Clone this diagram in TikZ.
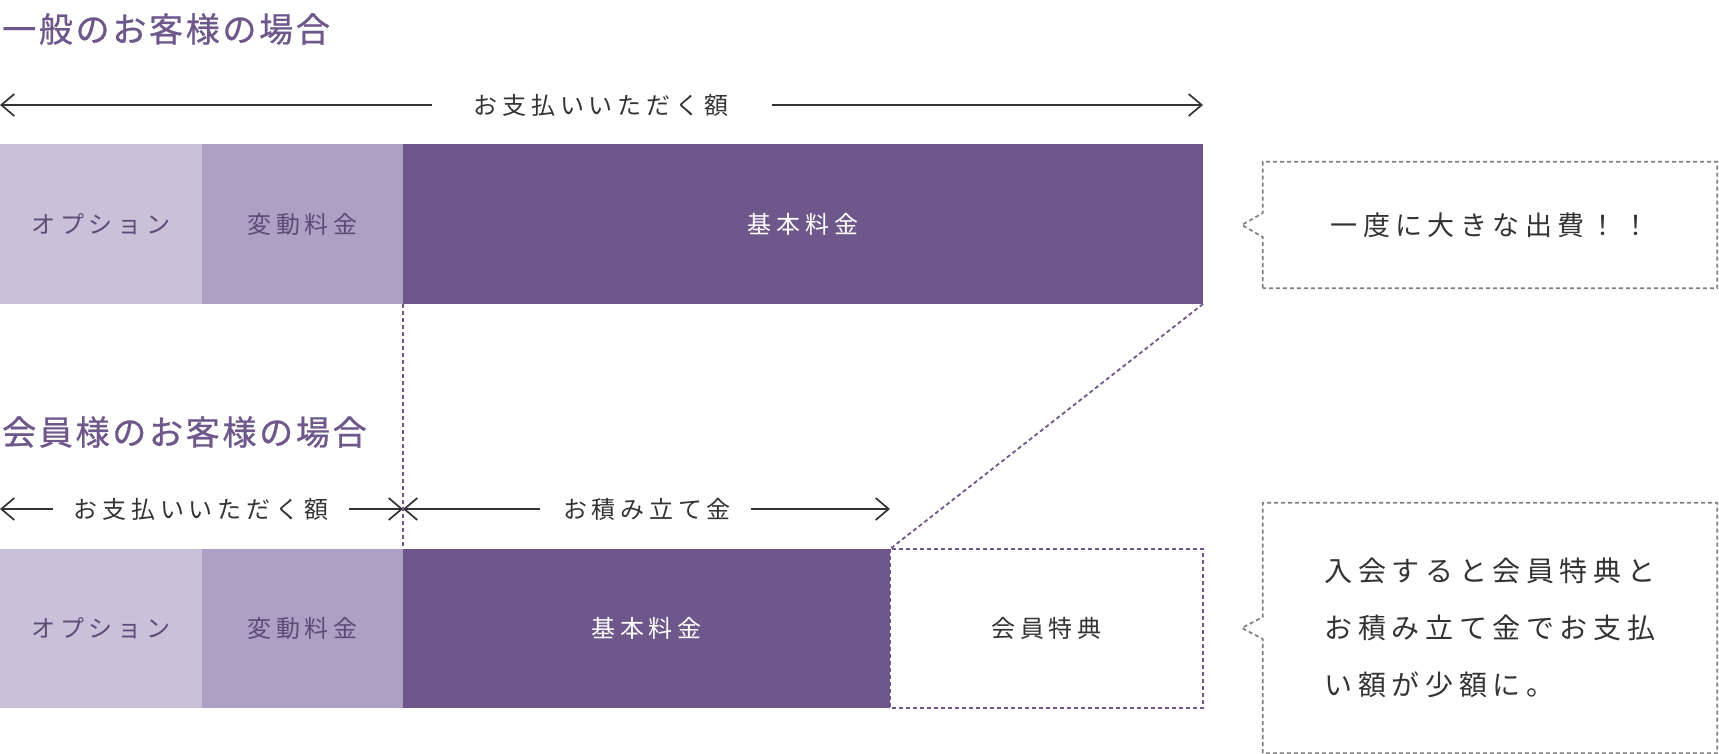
\documentclass[tikz,border=0pt]{standalone}
\usepackage{fontspec}
\setmainfont{Noto Sans CJK JP}
\newfontfamily\jpb[LetterSpace=20]{Noto Sans CJK JP}
\newfontfamily\jpt[LetterSpace=8,FakeBold=0.8]{Noto Sans CJK JP}
\usetikzlibrary{arrows.meta}
\definecolor{cLight}{HTML}{C9C0DA}
\definecolor{cMid}{HTML}{AE9FC4}
\definecolor{cDark}{HTML}{6E588B}
\definecolor{cTxtP}{HTML}{5B4B75}
\definecolor{cTxt}{HTML}{333333}
\definecolor{cGray}{HTML}{808080}
\begin{document}
\begin{tikzpicture}[x=1pt,y=-1pt,
  title/.style={anchor=west, inner sep=0pt, text=cDark, font=\jpt\fontsize{34pt}{40pt}\selectfont},
  lbl/.style={inner sep=0pt, text=cTxt, font=\jpb\fontsize{24pt}{28pt}\selectfont},
  seg/.style={draw=none, inner sep=0pt, outer sep=0pt, anchor=north west, minimum height=160pt, font=\jpb\fontsize{24pt}{28pt}\selectfont},
  arr/.style={draw=cTxt, line width=1.7pt, -{Straight Barb[length=13pt,width=22pt]}},
  pdash/.style={draw=cDark, line width=1.8pt, dash pattern=on 4pt off 3pt},
  callout/.style={draw=none, inner sep=0pt, minimum width=454pt, text=cTxt},
  gdash/.style={draw=cGray, line width=1.7pt, dash pattern=on 4pt off 3pt}
]
\useasboundingbox (0,0) rectangle (1719,754);

% ---------- row 1 ----------
\node[title] (t1) at (2,29) {一般のお客様の場合};

\coordinate (a1L) at (0,105);
\coordinate (a1s) at (432,105);
\coordinate (a1e) at (772,105);
\coordinate (a1R) at (1203,105);
\node[lbl] (a1t) at (601,105) {お支払いいただく額};
\draw[arr] (a1s) -- (a1L);
\draw[arr] (a1e) -- (a1R);

\node[seg, fill=cLight, minimum width=202pt, text=cTxtP] (o1) at (0,144) {オプション};
\node[seg, fill=cMid, minimum width=201pt, text=cTxtP] (h1) at (202,144) {変動料金};
\node[seg, fill=cDark, minimum width=800pt, text=white] (k1) at (403,144) {基本料金};

\node[callout, minimum height=126pt, font=\jpb\fontsize{27pt}{32pt}\selectfont] (c1) at (1490,225) {一度に大きな出費！！};
\draw[gdash] (c1.south west) -- ([yshift=-12pt]c1.west) -- ([xshift=-21pt]c1.west)
  -- ([yshift=12pt]c1.west) -- (c1.north west) -- (c1.north east) -- (c1.south east) -- cycle;

% ---------- row 2 ----------
\node[title] (t2) at (2,432) {会員様のお客様の場合};

\coordinate (a2L) at (0,509);
\coordinate (a2s) at (53,509);
\coordinate (a2e) at (349,509);
\coordinate (xm) at (403,509);
\coordinate (a3s) at (540,509);
\coordinate (a3e) at (751,509);
\coordinate (a3R) at (890,509);
\node[lbl] (a2t) at (201,509) {お支払いいただく額};
\node[lbl] (a3t) at (647,509) {お積み立て金};
\draw[arr] (a2s) -- (a2L);
\draw[arr] (a2e) -- (xm);
\draw[arr] (a3s) -- (xm);
\draw[arr] (a3e) -- (a3R);

\node[seg, fill=cLight, minimum width=202pt, minimum height=159pt, text=cTxtP] (o2) at (0,549) {オプション};
\node[seg, fill=cMid, minimum width=201pt, minimum height=159pt, text=cTxtP] (h2) at (202,549) {変動料金};
\node[seg, fill=cDark, minimum width=487pt, minimum height=159pt, text=white] (k2) at (403,549) {基本料金};
\node[seg, fill=white, minimum width=313pt, minimum height=159pt, text=cTxt] (tk) at (890,549) {会員特典};
\draw[pdash] (tk.north west) rectangle (tk.south east);

\draw[pdash] (k1.south west) -- (k2.north west);
\draw[pdash] (k1.south east) -- (k2.north east);

\node[callout, minimum height=250pt, align=left, font=\jpb\fontsize{28pt}{57pt}\selectfont] (c2) at (1490,628)
  {入会すると会員特典と\\お積み立て金でお支払\\い額が少額に。};
\draw[gdash] (c2.south west) -- ([yshift=-11pt]c2.west) -- ([xshift=-21pt]c2.west)
  -- ([yshift=11pt]c2.west) -- (c2.north west) -- (c2.north east) -- (c2.south east) -- cycle;
\end{tikzpicture}
\end{document}
